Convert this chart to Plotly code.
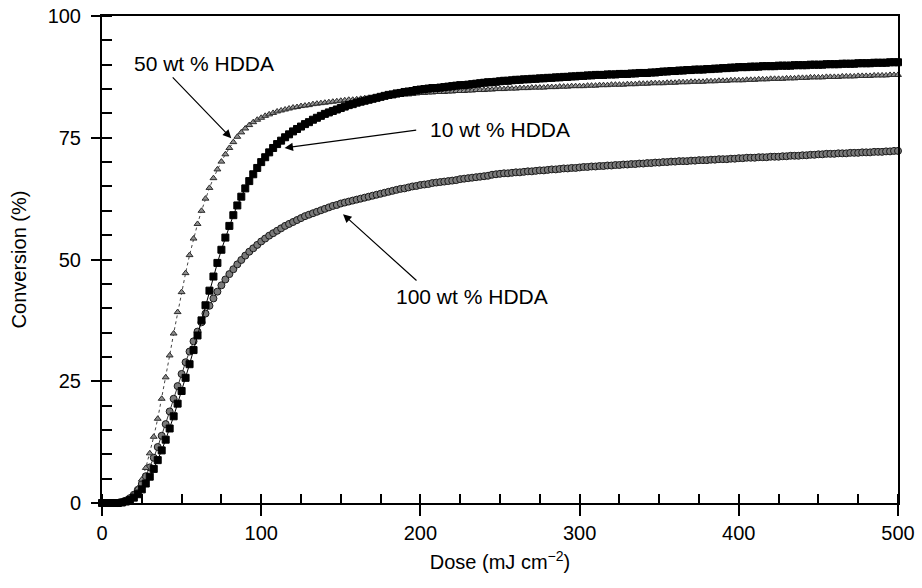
import numpy as np
import plotly.graph_objects as go

# Dose grid (mJ cm^-2), one reading every 2.5 units
dose = np.arange(0, 500.01, 2.5)

conv_50wt = [
    0.0, 0.0, 0.0, 0.0, 0.1, 0.3, 0.6, 1.1, 1.8, 3.0, 4.8, 7.2, 10.2, 13.6, 17.3, 21.4, 25.8, 30.3, 34.8, 39.2,
    43.3, 47.2, 50.9, 54.3, 57.3, 60.0, 62.5, 64.7, 66.7, 68.5, 70.1, 71.6, 72.9, 74.1, 75.2, 76.1, 76.9, 77.6, 78.2, 78.7,
    79.1, 79.5, 79.8, 80.1, 80.4, 80.6, 80.8, 81.0, 81.2, 81.3, 81.5, 81.6, 81.7, 81.9, 82.0, 82.1, 82.2, 82.3, 82.4, 82.5,
    82.6, 82.7, 82.8, 82.8, 82.9, 83.0, 83.1, 83.2, 83.2, 83.3, 83.4, 83.5, 83.5, 83.6, 83.7, 83.8, 83.9, 83.9, 84.0, 84.1,
    84.2, 84.2, 84.3, 84.3, 84.4, 84.4, 84.4, 84.5, 84.5, 84.6, 84.6, 84.6, 84.7, 84.7, 84.8, 84.8, 84.8, 84.9, 84.9, 85.0,
    85.0, 85.0, 85.1, 85.1, 85.1, 85.2, 85.2, 85.2, 85.3, 85.3, 85.3, 85.3, 85.4, 85.4, 85.4, 85.5, 85.5, 85.5, 85.6, 85.6,
    85.6, 85.6, 85.7, 85.7, 85.7, 85.8, 85.8, 85.8, 85.9, 85.9, 85.9, 85.9, 86.0, 86.0, 86.0, 86.1, 86.1, 86.1, 86.2, 86.2,
    86.2, 86.2, 86.3, 86.3, 86.3, 86.4, 86.4, 86.4, 86.5, 86.5, 86.5, 86.5, 86.6, 86.6, 86.6, 86.7, 86.7, 86.7, 86.8, 86.8,
    86.8, 86.8, 86.9, 86.9, 86.9, 87.0, 87.0, 87.0, 87.1, 87.1, 87.1, 87.1, 87.2, 87.2, 87.2, 87.3, 87.3, 87.3, 87.4, 87.4,
    87.4, 87.4, 87.5, 87.5, 87.5, 87.5, 87.6, 87.6, 87.6, 87.6, 87.7, 87.7, 87.7, 87.7, 87.8, 87.8, 87.8, 87.8, 87.9, 87.9,
    87.9,
]

conv_10wt = [
    0.0, 0.0, 0.0, 0.0, 0.0, 0.1, 0.3, 0.6, 1.1, 1.8, 2.8, 4.0, 5.4, 7.0, 8.8, 10.8, 13.0, 15.3, 17.8, 20.4,
    23.0, 25.7, 28.5, 31.4, 34.4, 37.5, 40.6, 43.6, 46.5, 49.3, 52.0, 54.5, 56.9, 59.1, 61.1, 62.9, 64.6, 66.1, 67.5, 68.8,
    70.0, 71.0, 72.0, 72.9, 73.7, 74.4, 75.1, 75.7, 76.3, 76.8, 77.3, 77.8, 78.2, 78.7, 79.1, 79.5, 79.9, 80.2, 80.5, 80.8,
    81.1, 81.4, 81.7, 81.9, 82.2, 82.4, 82.6, 82.8, 83.0, 83.2, 83.4, 83.6, 83.8, 83.9, 84.1, 84.2, 84.4, 84.5, 84.6, 84.8,
    84.9, 85.0, 85.1, 85.2, 85.2, 85.3, 85.4, 85.5, 85.6, 85.7, 85.8, 85.8, 85.9, 86.0, 86.1, 86.2, 86.3, 86.4, 86.4, 86.5,
    86.6, 86.7, 86.7, 86.8, 86.9, 86.9, 87.0, 87.0, 87.1, 87.1, 87.2, 87.2, 87.3, 87.3, 87.4, 87.4, 87.5, 87.5, 87.6, 87.6,
    87.7, 87.7, 87.8, 87.8, 87.9, 87.9, 87.9, 88.0, 88.0, 88.0, 88.1, 88.1, 88.1, 88.2, 88.2, 88.3, 88.3, 88.3, 88.4, 88.4,
    88.5, 88.6, 88.6, 88.7, 88.7, 88.8, 88.8, 88.9, 88.9, 89.0, 89.0, 89.0, 89.1, 89.1, 89.2, 89.2, 89.3, 89.3, 89.4, 89.4,
    89.5, 89.5, 89.5, 89.6, 89.6, 89.6, 89.7, 89.7, 89.7, 89.7, 89.8, 89.8, 89.8, 89.8, 89.9, 89.9, 89.9, 89.9, 90.0, 90.0,
    90.0, 90.0, 90.1, 90.1, 90.1, 90.1, 90.2, 90.2, 90.2, 90.2, 90.3, 90.3, 90.3, 90.3, 90.4, 90.4, 90.4, 90.4, 90.5, 90.5,
    90.5,
]

conv_100wt = [
    0.0, 0.0, 0.0, 0.0, 0.0, 0.2, 0.5, 1.0, 1.7, 2.7, 3.9, 5.5, 7.3, 9.3, 11.5, 13.8, 16.2, 18.8, 21.4, 24.0,
    26.5, 28.9, 31.1, 33.2, 35.2, 37.1, 38.9, 40.5, 42.0, 43.4, 44.7, 45.9, 47.0, 48.0, 49.0, 49.9, 50.8, 51.6, 52.3, 53.0,
    53.7, 54.3, 54.9, 55.4, 55.9, 56.4, 56.9, 57.3, 57.7, 58.1, 58.5, 58.9, 59.2, 59.5, 59.8, 60.1, 60.4, 60.7, 61.0, 61.2,
    61.5, 61.7, 61.9, 62.1, 62.3, 62.5, 62.7, 62.9, 63.1, 63.3, 63.5, 63.7, 63.9, 64.1, 64.3, 64.5, 64.6, 64.8, 65.0, 65.1,
    65.3, 65.4, 65.5, 65.7, 65.8, 65.9, 66.0, 66.1, 66.2, 66.3, 66.5, 66.6, 66.7, 66.8, 66.9, 67.0, 67.1, 67.2, 67.4, 67.5,
    67.6, 67.7, 67.7, 67.8, 67.9, 67.9, 68.0, 68.1, 68.1, 68.2, 68.3, 68.3, 68.4, 68.5, 68.5, 68.6, 68.7, 68.7, 68.8, 68.8,
    68.9, 69.0, 69.0, 69.1, 69.1, 69.2, 69.2, 69.3, 69.3, 69.4, 69.4, 69.5, 69.5, 69.6, 69.6, 69.7, 69.7, 69.8, 69.8, 69.9,
    69.9, 70.0, 70.0, 70.1, 70.1, 70.2, 70.2, 70.2, 70.3, 70.3, 70.4, 70.4, 70.4, 70.5, 70.5, 70.6, 70.6, 70.6, 70.7, 70.7,
    70.8, 70.8, 70.9, 70.9, 70.9, 71.0, 71.0, 71.0, 71.1, 71.1, 71.1, 71.2, 71.2, 71.3, 71.3, 71.3, 71.4, 71.4, 71.5, 71.5,
    71.6, 71.6, 71.7, 71.7, 71.7, 71.8, 71.8, 71.8, 71.9, 71.9, 71.9, 72.0, 72.0, 72.0, 72.1, 72.1, 72.1, 72.2, 72.2, 72.3,
    72.3,
]

x_ticks = [0, 100, 200, 300, 400, 500]
y_ticks = [0, 25, 50, 75, 100]
labels = ["50 wt % HDDA", "10 wt % HDDA", "100 wt % HDDA"]

FONT = "Arial, Liberation Sans, Helvetica, sans-serif"

fig = go.Figure()

fig.add_trace(go.Scatter(
    x=dose, y=conv_100wt, mode="lines+markers", name=labels[2], cliponaxis=False,
    line=dict(color="#333333", width=1),
    marker=dict(symbol="circle", size=7, color="#7a7a7a", line=dict(color="#1a1a1a", width=1)),
))
fig.add_trace(go.Scatter(
    x=dose, y=conv_50wt, mode="lines+markers", name=labels[0], cliponaxis=False,
    line=dict(color="#444444", width=1, dash="dot"),
    marker=dict(symbol="triangle-up", size=6, color="#8f8f8f", line=dict(color="#2a2a2a", width=1)),
))
fig.add_trace(go.Scatter(
    x=dose, y=conv_10wt, mode="lines+markers", name=labels[1], cliponaxis=False,
    line=dict(color="#000000", width=1),
    marker=dict(symbol="square", size=7, color="#000000", line=dict(color="#000000", width=1)),
))
# invisible trace to carry the overlay axis that draws the inner half of major x ticks
fig.add_trace(go.Scatter(x=[0], y=[0], xaxis="x2", mode="markers",
                         marker=dict(opacity=0), hoverinfo="skip", showlegend=False))

annots = [
    # (text, text_x, text_y, tail_x, tail_y, tip_x, tip_y)
    (labels[0], 63.8, 90.3, 43.5, 87.7, 81.2, 74.9),
    (labels[1], 250.2, 76.7, 198.3, 76.6, 114.7, 72.9),
    (labels[2], 232.6, 42.4, 198.5, 45.4, 151.4, 59.3),
]
for text, tx, ty, ax, ay, hx, hy in annots:
    fig.add_annotation(x=tx, y=ty, xref="x", yref="y", text=text, showarrow=False,
                       font=dict(family=FONT, size=21, color="black"))
    fig.add_annotation(x=hx, y=hy, ax=ax, ay=ay, xref="x", yref="y", axref="x", ayref="y",
                       text="", showarrow=True, arrowhead=2, arrowsize=1.4, arrowwidth=1.2,
                       arrowcolor="black", standoff=0)

fig.update_layout(
    width=922, height=588,
    margin=dict(l=102, r=24, t=16, b=85, autoexpand=False),
    paper_bgcolor="white", plot_bgcolor="white",
    showlegend=False,
    font=dict(family=FONT, color="black"),
    xaxis=dict(
        range=[0, 500], tickvals=x_ticks, ticks="outside", ticklen=11, tickwidth=2, tickcolor="black",
        minor=dict(ticks="inside", dtick=25, ticklen=9, tickwidth=1.5, tickcolor="black"),
        showline=True, linewidth=2, linecolor="black", mirror=True,
        showgrid=False, zeroline=False, automargin=False,
        tickfont=dict(size=20, family=FONT, color="black"),
        title=dict(text="Dose (mJ cm<sup>−2</sup>)", font=dict(size=20, family=FONT), standoff=12),
    ),
    xaxis2=dict(
        overlaying="x", matches="x", anchor="y", side="bottom",
        tickvals=[100, 200, 300, 400], ticks="inside", ticklen=8, tickwidth=2, tickcolor="black",
        showticklabels=False, showline=False, showgrid=False, zeroline=False, automargin=False,
    ),
    yaxis=dict(
        range=[0, 100], tickvals=y_ticks, ticks="outside", ticklen=9, tickwidth=2, tickcolor="black",
        minor=dict(ticks="inside", dtick=5, ticklen=10, tickwidth=1.5, tickcolor="black"),
        showline=True, linewidth=2, linecolor="black", mirror=True,
        showgrid=False, zeroline=False, automargin=False, ticklabelstandoff=6,
        tickfont=dict(size=20, family=FONT, color="black"),
        title=dict(text="Conversion (%)", font=dict(size=20, family=FONT), standoff=16),
    ),
)

fig.write_html("out.html")
